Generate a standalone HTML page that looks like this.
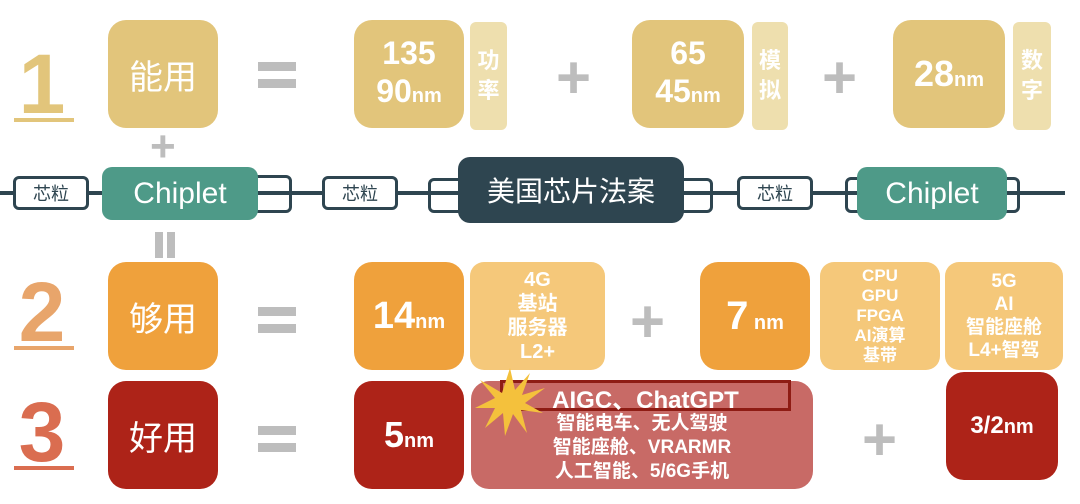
<!DOCTYPE html>
<html><head><meta charset="utf-8"><style>
body{margin:0;width:1080px;height:504px;background:#fff;position:relative;overflow:hidden;font-family:"Liberation Sans","Noto Sans CJK SC",sans-serif;}
.a{position:absolute;box-sizing:border-box;display:flex;align-items:center;justify-content:center;text-align:center;color:#fff;}
.b{font-weight:bold;}
.num{position:absolute;font-weight:bold;font-size:84px;line-height:1;text-align:center;width:60px;}
.ul{position:absolute;height:4px;width:60px;left:14px;}
.eq{position:absolute;width:38px;height:9px;background:#bdbdbd;left:258px;}
.plus{position:absolute;color:#bdbdbd;font-size:60px;font-weight:bold;line-height:1;}
small{font-size:20px;}
.lk{position:absolute;border:3px solid #2e4550;border-radius:6px;box-sizing:border-box;background:#fff;}
.lk2{position:absolute;border:3px solid #2e4550;border-radius:6px;box-sizing:border-box;}
</style></head><body>
<!-- row 1 -->
<div class="num" style="left:12px;top:42px;color:#e2c57b">1</div><div class="ul" style="top:118px;background:#e2c57b"></div>
<div class="a" style="left:108px;top:20px;width:110px;height:108px;background:#e2c57b;border-radius:18px;font-size:34px">能用</div>
<div class="eq" style="top:62px"></div><div class="eq" style="top:79px"></div>
<div class="a b" style="left:354px;top:20px;width:110px;height:108px;background:#e2c57b;border-radius:18px;font-size:32px;line-height:38px"><div>135<br>90<small>nm</small></div></div>
<div class="a b" style="left:470px;top:22px;width:37px;height:108px;background:#eedfae;border-radius:6px;font-size:22px;line-height:30px"><div>功<br>率</div></div>
<div class="plus" style="left:556px;top:48px">+</div>
<div class="a b" style="left:632px;top:20px;width:112px;height:108px;background:#e2c57b;border-radius:18px;font-size:32px;line-height:38px"><div>65<br>45<small>nm</small></div></div>
<div class="a b" style="left:752px;top:22px;width:36px;height:108px;background:#eedfae;border-radius:6px;font-size:22px;line-height:30px"><div>模<br>拟</div></div>
<div class="plus" style="left:822px;top:48px">+</div>
<div class="a b" style="left:893px;top:20px;width:112px;height:108px;background:#e2c57b;border-radius:18px;font-size:36px"><div>28<small>nm</small></div></div>
<div class="a b" style="left:1013px;top:22px;width:38px;height:108px;background:#eedfae;border-radius:6px;font-size:22px;line-height:30px"><div>数<br>字</div></div>
<div class="plus" style="left:150px;top:125px;font-size:44px">+</div>
<div style="position:absolute;left:155px;top:232px;width:8px;height:26px;background:#bdbdbd"></div>
<div style="position:absolute;left:167px;top:232px;width:8px;height:26px;background:#bdbdbd"></div>
<!-- chain -->
<div style="position:absolute;left:0;top:191px;width:1065px;height:4px;background:#2e4550"></div>
<div class="lk a" style="left:13px;top:176px;width:76px;height:34px;color:#2e4550;font-size:18px">芯粒</div>
<div class="lk2" style="left:252px;top:175px;width:40px;height:38px"></div>
<div class="a" style="left:102px;top:167px;width:156px;height:53px;background:#4e9a88;border-radius:10px;font-size:30px">Chiplet</div>
<div class="lk a" style="left:322px;top:176px;width:76px;height:34px;color:#2e4550;font-size:18px">芯粒</div>
<div class="lk2" style="left:428px;top:178px;width:285px;height:35px"></div>
<div class="a" style="left:458px;top:157px;width:226px;height:66px;background:#2e4550;border-radius:12px;font-size:28px">美国芯片法案</div>
<div class="lk a" style="left:737px;top:176px;width:76px;height:34px;color:#2e4550;font-size:18px">芯粒</div>
<div class="lk2" style="left:845px;top:177px;width:175px;height:36px"></div>
<div class="a" style="left:857px;top:167px;width:150px;height:53px;background:#4e9a88;border-radius:10px;font-size:30px">Chiplet</div>
<!-- row 2 -->
<div class="num" style="left:12px;top:270px;color:#e8a56b">2</div><div class="ul" style="top:346px;background:#e8a56b"></div>
<div class="a" style="left:108px;top:262px;width:110px;height:108px;background:#efa13c;border-radius:18px;font-size:34px">够用</div>
<div class="eq" style="top:307px"></div><div class="eq" style="top:324px"></div>
<div class="a b" style="left:354px;top:262px;width:110px;height:108px;background:#efa13c;border-radius:18px;font-size:38px"><div>14<small>nm</small></div></div>
<div class="a b" style="left:470px;top:262px;width:135px;height:108px;background:#f5c87a;border-radius:14px;font-size:20px;line-height:24px"><div>4G<br>基站<br>服务器<br>L2+</div></div>
<div class="plus" style="left:630px;top:292px">+</div>
<div class="a b" style="left:700px;top:262px;width:110px;height:108px;background:#efa13c;border-radius:18px;font-size:40px"><div>7<small>&nbsp;nm</small></div></div>
<div class="a b" style="left:820px;top:262px;width:120px;height:108px;background:#f5c87a;border-radius:14px;font-size:17px;line-height:20px"><div>CPU<br>GPU<br>FPGA<br>AI演算<br>基带</div></div>
<div class="a b" style="left:945px;top:262px;width:118px;height:108px;background:#f5c87a;border-radius:14px;font-size:19px;line-height:23px"><div>5G<br>AI<br>智能座舱<br>L4+智驾</div></div>
<!-- row 3 -->
<div class="num" style="left:12px;top:390px;color:#da6d50">3</div><div class="ul" style="top:466px;background:#da6d50"></div>
<div class="a" style="left:108px;top:381px;width:110px;height:108px;background:#ad2318;border-radius:18px;font-size:34px">好用</div>
<div class="eq" style="top:426px"></div><div class="eq" style="top:443px"></div>
<div class="a b" style="left:354px;top:381px;width:110px;height:108px;background:#ad2318;border-radius:18px;font-size:36px"><div>5<small>nm</small></div></div>
<div class="a b" style="left:471px;top:381px;width:342px;height:108px;background:#c86a66;border-radius:18px;font-size:19px;line-height:24px;padding-top:26px"><div>智能电车、无人驾驶<br>智能座舱、VRARMR<br>人工智能、5/6G手机</div></div>
<div style="position:absolute;left:500px;top:380px;width:291px;height:31px;border:3px solid #8e1c14;box-sizing:border-box"></div>
<div class="a b" style="left:500px;top:380px;width:291px;height:34px;font-size:24px">AIGC、ChatGPT</div>
<svg style="position:absolute;left:475px;top:368px" width="70" height="70" viewBox="0 0 70 70"><polygon fill="#f4c13c" points="35,0 40,22 55,5 47,27 70,20 50,35 68,45 46,42 52,65 38,46 30,68 28,45 10,60 20,40 0,40 20,30 5,12 27,25" /></svg>
<div class="plus" style="left:862px;top:410px">+</div>
<div class="a b" style="left:946px;top:372px;width:112px;height:108px;background:#ad2318;border-radius:18px;font-size:24px"><div>3/2<small>nm</small></div></div>
</body></html>
